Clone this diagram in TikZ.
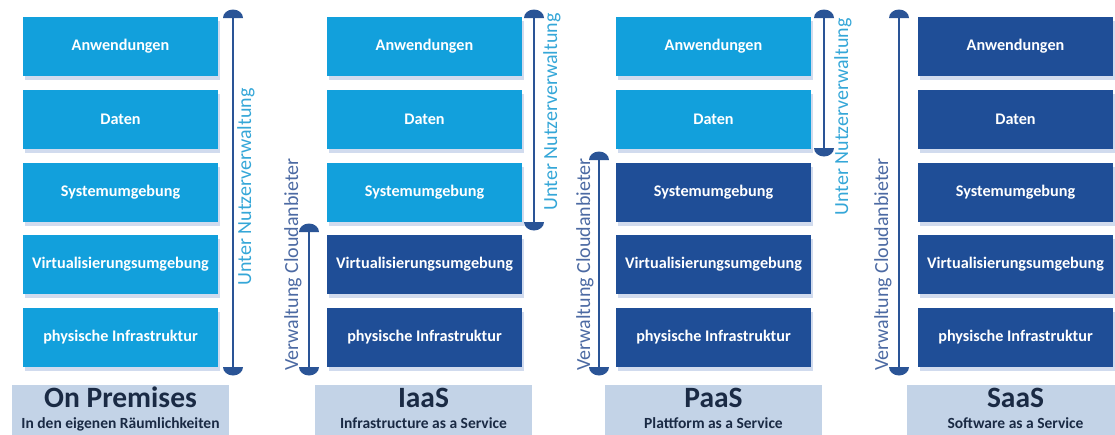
\documentclass[tikz,border=0pt]{standalone}
\usepackage{fontspec}
\setmainfont{Carlito}
\usetikzlibrary{shadows}

\definecolor{userblue}{HTML}{12A0DC}
\definecolor{provblue}{HTML}{1F4E97}
\definecolor{barblue}{HTML}{2A5496}
\definecolor{usertext}{HTML}{35A7D8}
\definecolor{provtext}{HTML}{4C6AA3}
\definecolor{titlefill}{HTML}{C3D3E7}
\definecolor{titletext}{HTML}{1A2A44}
\definecolor{shadowc}{HTML}{C6D3EA}

% half-disc end caps of the span bars
\newcommand{\topcap}[1]{\fill[barblue] ([xshift=-10pt]#1) arc[start angle=180, end angle=360, x radius=10, y radius=8.5];}
\newcommand{\botcap}[1]{\fill[barblue] ([xshift=-10pt]#1) arc[start angle=180, end angle=0, x radius=10, y radius=8.5];}

\begin{document}
\begin{tikzpicture}[x=1pt,y=-1pt,
  layer/.style={minimum width=195pt, minimum height=59pt, inner sep=0pt,
    text=white, font=\bfseries\fontsize{16.2}{17}\selectfont,
    drop shadow={shadow xshift=2pt, shadow yshift=-4pt, fill=shadowc, opacity=0.8}},
  user/.style={layer, fill=userblue},
  prov/.style={layer, fill=provblue},
  titlebox/.style={fill=titlefill, minimum width=217pt, minimum height=50pt, inner sep=0pt},
  titlemain/.style={text=titletext, font=\bfseries\fontsize{29.5}{30}\selectfont, anchor=base, inner sep=0pt},
  titlesub/.style={text=titletext, font=\bfseries\fontsize{15.5}{16}\selectfont, anchor=base, inner sep=0pt},
  spanbar/.style={draw=barblue, line width=1.8pt},
  userlabel/.style={text=usertext, font=\fontsize{20}{21}\selectfont, rotate=90, inner sep=0pt},
  provlabel/.style={text=provtext, font=\fontsize{20}{21}\selectfont, rotate=90, inner sep=0pt, anchor=west}
]
\useasboundingbox (0,0) rectangle (1115,434);
\fill[white] (0,0) rectangle (1115,434);

% ---------- On Premises ----------
\node[user] (a1) at (120.5,46.5)  {Anwendungen};
\node[user] (a2) at (120.5,119.5) {Daten};
\node[user] (a3) at (120.5,192)   {Systemumgebung};
\node[user] (a4) at (120.5,264.5) {Virtualisierungsumgebung};
\node[user] (a5) at (120.5,337.5) {physische Infrastruktur};
\coordinate (aUt) at (233,18);
\coordinate (aUb) at (233,367);
\draw[spanbar] (aUt) -- (aUb);
\topcap{aUt}\botcap{aUb}
\node[userlabel] (aUl) at (246,187) {Unter Nutzerverwaltung};
\node[titlebox] (aT) at (120.5,410) {};
\node[titlemain] (aTm) at (120.5,407) {On Premises};
\node[titlesub] (aTs) at (120.5,428) {In den eigenen Räumlichkeiten};

% ---------- IaaS ----------
\node[user] (b1) at (424.5,46.5)  {Anwendungen};
\node[user] (b2) at (424.5,119.5) {Daten};
\node[user] (b3) at (424.5,192)   {Systemumgebung};
\node[prov] (b4) at (424.5,264.5) {Virtualisierungsumgebung};
\node[prov] (b5) at (424.5,337.5) {physische Infrastruktur};
\coordinate (bUt) at (534,18);
\coordinate (bUb) at (534,222);
\draw[spanbar] (bUt) -- (bUb);
\topcap{bUt}\botcap{bUb}
\node[userlabel] (bUl) at (552,112) {Unter Nutzerverwaltung};
\coordinate (bPt) at (309,232);
\coordinate (bPb) at (309,367);
\draw[spanbar] (bPt) -- (bPb);
\topcap{bPt}\botcap{bPb}
\node[provlabel] (bPl) at (293,371) {Verwaltung Cloudanbieter};
\node[titlebox] (bT) at (423.5,410) {};
\node[titlemain] (bTm) at (423.5,407) {IaaS};
\node[titlesub] (bTs) at (423.5,428) {Infrastructure as a Service};

% ---------- PaaS ----------
\node[user] (c1) at (713.5,46.5)  {Anwendungen};
\node[user] (c2) at (713.5,119.5) {Daten};
\node[prov] (c3) at (713.5,192)   {Systemumgebung};
\node[prov] (c4) at (713.5,264.5) {Virtualisierungsumgebung};
\node[prov] (c5) at (713.5,337.5) {physische Infrastruktur};
\coordinate (cUt) at (824,18);
\coordinate (cUb) at (824,148);
\draw[spanbar] (cUt) -- (cUb);
\topcap{cUt}\botcap{cUb}
\node[userlabel] (cUl) at (843,117) {Unter Nutzerverwaltung};
\coordinate (cPt) at (599,160);
\coordinate (cPb) at (599,367);
\draw[spanbar] (cPt) -- (cPb);
\topcap{cPt}\botcap{cPb}
\node[provlabel] (cPl) at (585,371) {Verwaltung Cloudanbieter};
\node[titlebox] (cT) at (713.5,410) {};
\node[titlemain] (cTm) at (713.5,407) {PaaS};
\node[titlesub] (cTs) at (713.5,428) {Plattform as a Service};

% ---------- SaaS ----------
\node[prov] (d1) at (1015.5,46.5)  {Anwendungen};
\node[prov] (d2) at (1015.5,119.5) {Daten};
\node[prov] (d3) at (1015.5,192)   {Systemumgebung};
\node[prov] (d4) at (1015.5,264.5) {Virtualisierungsumgebung};
\node[prov] (d5) at (1015.5,337.5) {physische Infrastruktur};
\coordinate (dPt) at (899,18);
\coordinate (dPb) at (899,367);
\draw[spanbar] (dPt) -- (dPb);
\topcap{dPt}\botcap{dPb}
\node[provlabel] (dPl) at (883,371) {Verwaltung Cloudanbieter};
\node[titlebox] (dT) at (1015.5,410) {};
\node[titlemain] (dTm) at (1015.5,407) {SaaS};
\node[titlesub] (dTs) at (1015.5,428) {Software as a Service};
\end{tikzpicture}
\end{document}
